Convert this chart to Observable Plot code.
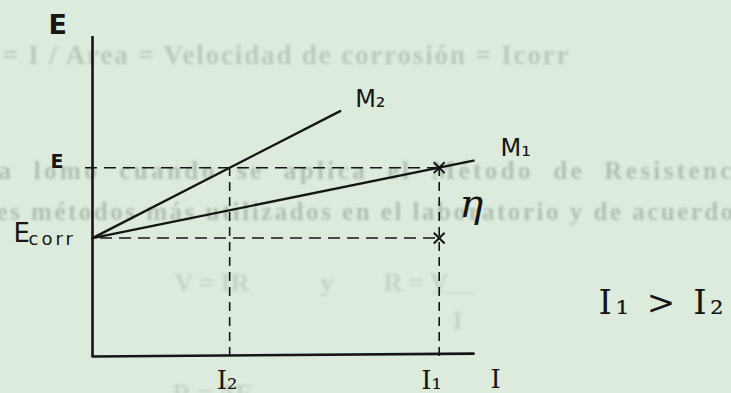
<!DOCTYPE html>
<html>
<head>
<meta charset="utf-8">
<script src="https://cdn.jsdelivr.net/npm/d3@7"></script>
<script src="https://cdn.jsdelivr.net/npm/@observablehq/plot@0.6"></script>
<style>
  html, body { margin: 0; padding: 0; background: #dcebdc; }
  #chart { width: 731px; height: 393px; overflow: hidden; }
</style>
</head>
<body>
<div id="chart"></div>
<script>
// Linear polarization: potential E against current I for two metals M1 and M2,
// both starting from the corrosion potential Ecorr.
const Ecorr = 37;        // corrosion potential
const Eapplied = 59;     // applied potential E
const I2 = 36;           // current reached by M2 at E
const I1 = 91;           // current reached by M1 at E
const yAxisTop = 100;

const lineM1 = [{I: 0, E: 37}, {I: 100, E: 61.2}];
const lineM2 = [{I: 0, E: 37}, {I: 65, E: 76.7}];
const xAxisLine = [{I: 0, E: 0}, {I: 100, E: 0.9}];
const crossings = [{I: I1, E: Eapplied}, {I: I1, E: Ecorr}];

// Faint text showing through from the other side of the sheet
const backText = [
  {text: "= I / Area = Velocidad de corrosión = Icorr", dx: -90, dy: 27, size: 27, spacing: 1.85, fill: "#bccabc"},
  {text: "a  lomo  cuando  se  aplica  el  Método  de  Resistencia", dx: -94, dy: 142, size: 25, spacing: 3.4, fill: "#b2c0b2"},
  {text: "es métodos más utilizados en el laboratorio y de acuerdo", dx: -96, dy: 183, size: 25, spacing: 2.5, fill: "#b2c0b2"},
  {text: "V = IR", dx: 82, dy: 254, size: 26, spacing: 0, fill: "#c6d4c6"},
  {text: "y", dx: 228, dy: 254, size: 26, spacing: 0, fill: "#c6d4c6"},
  {text: "R = V", dx: 291, dy: 254, size: 26, spacing: 0, fill: "#c6d4c6"},
  {text: "I", dx: 360, dy: 292, size: 26, spacing: 0, fill: "#c6d4c6"},
  {text: "R = ΔE", dx: 80, dy: 365, size: 26, spacing: 0, fill: "#c6d4c6"}
];

const ink = "#151515";

function ghost(d) {
  return Plot.text([d.text], {
    text: t => t, frameAnchor: "top-left", dx: d.dx, dy: d.dy,
    textAnchor: "start", lineAnchor: "bottom",
    fontFamily: "Liberation Serif", fontWeight: "bold", fontSize: d.size,
    fill: d.fill
  });
}

function label(str, x, y, o) {
  return Plot.text([str], {text: t => t, x, y, textAnchor: "start", lineAnchor: "bottom", fill: ink, ...o});
}

const chart = Plot.plot({
  width: 731,
  height: 393,
  marginLeft: 92,
  marginRight: 258,
  marginTop: 36,
  marginBottom: 37,
  x: {domain: [0, 100], axis: null},
  y: {domain: [0, 100], axis: null},
  style: {background: "#dcebdc", fontFamily: "DejaVu Sans", overflow: "visible"},
  marks: [
    ...backText.map(ghost),
    Plot.rect(["underline"], {x1: 89.5, x2: 100.5, y1: 19.6, y2: 19.9, fill: "#c6d4c6", fillOpacity: 0.9}),

    // axes
    Plot.ruleX([0], {y1: 0, y2: yAxisTop, stroke: ink, strokeWidth: 2.6}),
    Plot.line(xAxisLine, {x: "I", y: "E", stroke: ink, strokeWidth: 2.6}),

    // guide lines
    Plot.ruleY([Eapplied], {x1: 0, x2: I1, insetLeft: -7, stroke: ink, strokeWidth: 1.5, strokeDasharray: "12,7"}),
    Plot.ruleY([Ecorr], {x1: 0, x2: I1, insetLeft: 2, stroke: ink, strokeWidth: 1.5, strokeDasharray: "12,7", strokeDashoffset: -6}),
    Plot.ruleX([I2], {y1: 0, y2: Eapplied, stroke: ink, strokeWidth: 1.6, strokeDasharray: "9,6"}),
    Plot.ruleX([I1], {y1: 0, y2: Eapplied, stroke: ink, strokeWidth: 1.6, strokeDasharray: "9,6"}),

    // polarization lines
    Plot.line(lineM2, {x: "I", y: "E", stroke: ink, strokeWidth: 2.4, strokeLinecap: "round"}),
    Plot.line(lineM1, {x: "I", y: "E", stroke: ink, strokeWidth: 2.4, strokeLinecap: "round"}),
    Plot.dot(crossings, {x: "I", y: "E", symbol: "times", r: 5, stroke: ink, strokeWidth: 2}),

    // labels
    label("E", 0, yAxisTop, {dx: -44, dy: -3, fontSize: 27, fontWeight: "bold"}),
    label("E", 0, Eapplied, {dx: -42, dy: 0, fontSize: 19, fontWeight: "bold"}),
    label("E", 0, Ecorr, {dx: -79, dy: 4, fontSize: 26}),
    label("corr", 0, Ecorr, {dx: -64, dy: 7, fontSize: 18}),
    label("M₂", lineM2[1].I, lineM2[1].E, {dx: 15, dy: -4, fontSize: 24}),
    label("M₁", lineM1[1].I, lineM1[1].E, {dx: 27, dy: -5, fontSize: 24}),
    label("η", I1, (Eapplied + Ecorr) / 2, {dx: 20, dy: 14, fontSize: 40, fontFamily: "DejaVu Serif", fontStyle: "italic"}),
    label("I₂", I2, 0, {dx: -13, dy: 32, fontSize: 26, fontFamily: "DejaVu Serif"}),
    label("I₁", I1, 0, {dx: -18, dy: 32, fontSize: 26, fontFamily: "DejaVu Serif"}),
    label("I", 100, 0.9, {dx: 17, dy: 34, fontSize: 26, fontFamily: "DejaVu Serif"}),
    Plot.text(["I₁ > I₂"], {text: t => t, frameAnchor: "bottom-right", dx: 125, dy: -43,
      textAnchor: "start", lineAnchor: "bottom", fontSize: 34, fontFamily: "DejaVu Serif", fill: ink})
  ]
});

document.getElementById("chart").appendChild(chart);

// The show-through lines are the first texts drawn: soften and space them.
const texts = d3.select(chart).selectAll("text").nodes();
texts.forEach((node, i) => {
  const el = d3.select(node);
  if (i < backText.length) {
    el.attr("letter-spacing", backText[i].spacing).style("filter", "blur(0.8px)");
  } else if (node.textContent === "corr") {
    el.attr("letter-spacing", 3);
  } else if (node.textContent === "I₁ > I₂") {
    el.attr("letter-spacing", 3.5);
  }
});
d3.select(chart).selectAll("rect").style("filter", "blur(0.8px)");
</script>
</body>
</html>
